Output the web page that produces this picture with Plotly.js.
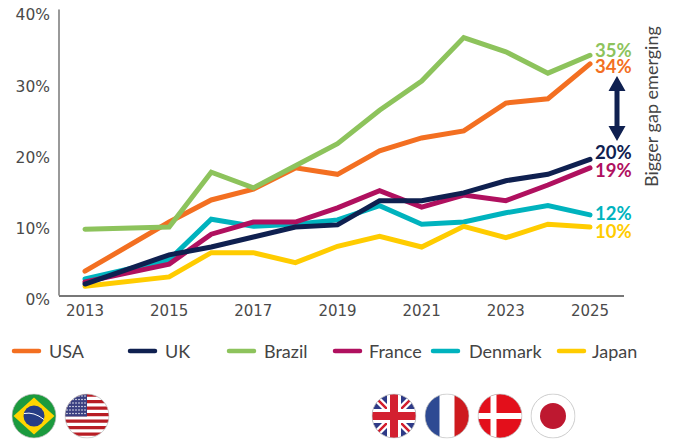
<!DOCTYPE html>
<html><head><meta charset="utf-8">
<script src="https://cdn.plot.ly/plotly-3.0.1.min.js"></script>
<style>
html,body{margin:0;padding:0;background:#fff}
.scatterlayer .js-line{stroke-linecap:round!important}
.shapelayer path{stroke-linecap:round}
</style></head><body><div id="chart" style="width:683px;height:441px"></div>
<script>
const years=[2013,2015,2016,2017,2018,2019,2020,2021,2022,2023,2024,2025];
const usa=[3.9,10.8,13.9,15.4,18.4,17.5,20.8,22.6,23.6,27.5,28.1,33.0];
const brazil=[9.8,10.1,17.8,15.6,18.7,21.8,26.5,30.6,36.7,34.7,31.7,34.2];
const denmark=[2.8,5.5,11.2,10.2,10.5,11.1,13.1,10.5,10.8,12.1,13.1,11.8];
const japan=[1.8,3.1,6.5,6.5,5.1,7.4,8.8,7.3,10.2,8.6,10.5,10.1];
const france=[2.4,4.9,9.1,10.8,10.8,12.8,15.2,12.9,14.6,13.8,16.0,18.4];
const uk=[2.1,6.2,7.3,8.7,10.1,10.4,13.8,13.8,14.9,16.6,17.5,19.6];
const colors={USA:'#F36F21',UK:'#0F2050',Brazil:'#8DC35C',France:'#B0105F',Denmark:'#00B3BE',Japan:'#FFCC00'};
const drawOrder=[['USA',usa],['Brazil',brazil],['Denmark',denmark],['Japan',japan],['France',france],['UK',uk]];
const endLabels=[['35%','Brazil',50],['34%','USA',66],['20%','UK',152],['19%','France',170],['12%','Denmark',213],['10%','Japan',231]];
const legendItems=[['USA',12,49],['UK',128,165],['Brazil',227,264],['France',333,369],['Denmark',431,469],['Japan',557,592]];

const L=59,R=624,T=10,B=299,W=R-L,H=B-T;
const px=x=>(x-L)/W, py=y=>(B-y)/H;

const traces=drawOrder.map(([n,v])=>({x:years,y:v,name:n,type:'scatter',mode:'lines',
  line:{color:colors[n],width:5,shape:'linear'},hoverinfo:'skip'}));

const annotations=[];
endLabels.forEach(([t,n,y])=>annotations.push({xref:'paper',yref:'paper',x:px(593),y:py(y),text:t,showarrow:false,
  xanchor:'left',yanchor:'middle',font:{family:'Lato, sans-serif',size:18.5,color:colors[n],weight:700}}));
legendItems.forEach(([n,sx,tx])=>annotations.push({xref:'paper',yref:'paper',x:px(tx),y:py(351),text:n,showarrow:false,
  xanchor:'left',yanchor:'middle',xshift:-2,font:{family:'Lato, sans-serif',size:18,color:'#444'}}));
annotations.push({xref:'paper',yref:'paper',x:px(651),y:py(107),text:'Bigger gap emerging',showarrow:false,textangle:-90,
  xanchor:'center',yanchor:'middle',font:{family:'Lato, sans-serif',size:18,color:'#444'}});

const shapes=[];
shapes.push({type:'line',xref:'paper',yref:'paper',x0:px(59),x1:px(59),y0:py(295),y1:py(10),line:{color:'#777',width:1.5}});
legendItems.forEach(([n,sx])=>shapes.push({type:'line',xref:'paper',yref:'paper',x0:px(sx+2),x1:px(sx+27),y0:py(351),y1:py(351),line:{color:colors[n],width:4.5}}));
const ax=617,p=(x,y)=>px(x)+','+py(y);
shapes.push({type:'path',xref:'paper',yref:'paper',fillcolor:colors.UK,line:{width:0},
 path:'M'+p(ax,76)+'L'+p(ax+8.5,91)+'L'+p(ax+2.5,91)+'L'+p(ax+2.5,126)+'L'+p(ax+8.5,126)+'L'+p(ax,141)+'L'+p(ax-8.5,126)+'L'+p(ax-2.5,126)+'L'+p(ax-2.5,91)+'L'+p(ax-8.5,91)+'Z'});

function flag(body){
  const s='<svg xmlns="http://www.w3.org/2000/svg" width="90" height="90" viewBox="0 0 90 90"><defs><clipPath id="c"><circle cx="45" cy="45" r="44"/></clipPath></defs><g clip-path="url(#c)"><rect width="90" height="90" fill="#fff"/>'+body+'</g><circle cx="45" cy="45" r="44" fill="none" stroke="#bbb" stroke-width="1.5"/></svg>';
  return 'data:image/svg+xml;base64,'+btoa(s);
}
let stripes='';for(let i=0;i<7;i++)stripes+='<rect y="'+(i*13)+'" width="90" height="6.5" fill="#B81D24"/>';
let stars='';for(let r=0;r<6;r++)for(let c=0;c<7;c++)stars+='<circle cx="'+(5+c*6)+'" cy="'+(5+r*7)+'" r="1.5" fill="#fff"/>';
const flags=[
 [34,'<rect width="90" height="90" fill="#1B9A3E"/><path d="M45 8L86 45L45 82L4 45Z" fill="#FFD500"/><circle cx="45" cy="45" r="21" fill="#263D85"/><path d="M25 40Q45 36 65 52" stroke="#fff" stroke-width="2" fill="none"/>'],
 [87,stripes+'<rect width="45" height="46" fill="#3A3F80"/>'+stars],
 [394,'<rect width="90" height="90" fill="#2E3A87"/><path d="M0 0L90 90M90 0L0 90" stroke="#fff" stroke-width="14"/><path d="M0 0L90 90M90 0L0 90" stroke="#D32030" stroke-width="5"/><rect x="31" width="28" height="90" fill="#fff"/><rect y="31" width="90" height="28" fill="#fff"/><rect x="37" width="16" height="90" fill="#D32030"/><rect y="37" width="90" height="16" fill="#D32030"/>'],
 [447,'<rect width="30" height="90" fill="#2E4A93"/><rect x="60" width="30" height="90" fill="#CE1A1E"/>'],
 [500,'<rect width="90" height="90" fill="#E30F1B"/><rect x="26" width="12" height="90" fill="#fff"/><rect y="39" width="90" height="12" fill="#fff"/>'],
 [553,'<circle cx="45" cy="45" r="26" fill="#BE1830"/>']
];
const images=flags.map(([cx,b])=>({source:flag(b),xref:'paper',yref:'paper',x:px(cx),y:py(416),sizex:45/W,sizey:45/H,
  xanchor:'center',yanchor:'middle',sizing:'stretch',layer:'above'}));

const layout={width:683,height:441,paper_bgcolor:'#fff',plot_bgcolor:'#fff',showlegend:false,
  margin:{l:L,r:683-R,t:T,b:441-B,pad:0},
  xaxis:{range:[2013-26/42.08,2025+34/42.08],tickmode:'array',tickvals:[2013,2015,2017,2019,2021,2023,2025],
    ticktext:['2013','2015','2017','2019','2021','2023','2025'],showgrid:false,zeroline:false,ticks:'',
    anchor:'free',position:4/H,showline:true,linecolor:'#777',linewidth:1.5,ticklabelstandoff:1,
    tickfont:{family:'DejaVu Sans, sans-serif',size:15,color:'#4a4a4a'}},
  yaxis:{range:[0,H/7.125],tickmode:'array',tickvals:[0,10,20,30,40],ticktext:['0%','10%','20%','30%','40%'],
    showgrid:false,zeroline:false,showline:false,ticks:'',ticklabelstandoff:8,ticklabelshift:1,
    tickfont:{family:'DejaVu Sans, sans-serif',size:15.5,color:'#4a4a4a'}},
  annotations,shapes,images};
Plotly.newPlot('chart',traces,layout,{displayModeBar:false,staticPlot:true});
</script></body></html>
